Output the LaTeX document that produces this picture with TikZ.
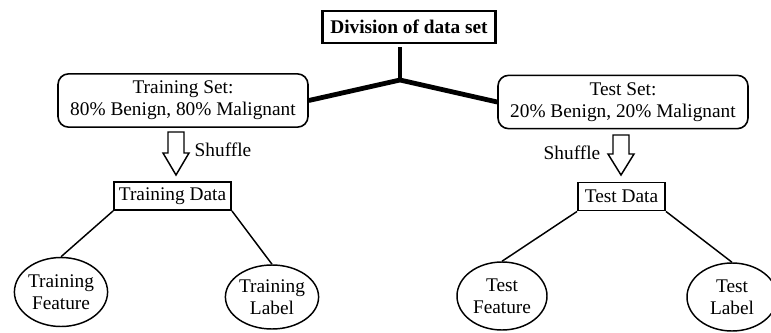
\documentclass[tikz,border=0pt]{standalone}
\usepackage{fontspec}
\setmainfont{Liberation Serif}
\usetikzlibrary{shapes.geometric}
\begin{document}
\begin{tikzpicture}[x=0.75pt, y=-0.75pt, >=stealth,
    every node/.style={font=\fontsize{14.5}{16.5}\selectfont, align=center, inner sep=0pt},
    setbox/.style={draw, line width=1.2pt, rounded corners=8pt, minimum width=187.5pt, minimum height=40pt},
    databox/.style={draw, line width=1.4pt, minimum height=21pt},
    leaf/.style={draw, ellipse, line width=1.1pt},
    branch/.style={line width=1.1pt},
    hollow/.style={draw, line width=1.1pt, fill=white}]
    % Khung (0,0) - (771,332), đơn vị = pixel của ảnh gốc
    \useasboundingbox (0,0) rectangle (771,332);

    % Tiêu đề
    \node[draw, line width=1.6pt, minimum width=129.75pt, minimum height=24pt,
        font=\fontsize{14.5}{16.5}\selectfont\bfseries] (title) at (409,27) {Division of data set};

    % Hai tập dữ liệu
    \node[setbox] (trainset) at (183,100.5) {Training Set:\\80\% Benign, 80\% Malignant};
    \node[setbox] (testset) at (623,102) {Test Set:\\20\% Benign, 20\% Malignant};

    % Nhánh chữ Y
    \coordinate (forktop) at (400,47);
    \coordinate (fork) at (400,80);
    \draw[line width=3.6pt] (forktop) -- (fork);
    \draw[line width=3.6pt] (trainset.east) -- (fork) -- (testset.west);

    % Mũi tên rỗng (Shuffle)
    \draw[hollow, shift={(176,132)}] (-8,0) -- (8,0) -- (8,21) -- (13,21) -- (0,43)
        -- (-13,21) -- (-8,21) -- cycle;
    \draw[hollow, shift={(621,135)}] (-8,0) -- (8,0) -- (8,19) -- (13,19) -- (0,40)
        -- (-13,19) -- (-8,19) -- cycle;
    \node (shuftrain) at (223,150) {Shuffle};
    \node (shuftest) at (572,153) {Shuffle};

    % Dữ liệu sau khi trộn
    \node[databox, minimum width=87.75pt] (traindata) at (172.5,196) {Training Data};
    \node[databox, minimum width=65.25pt] (testdata) at (621.5,196.5) {Test Data};

    % Lá: đặc trưng và nhãn
    \node[leaf, minimum width=66pt, minimum height=51.75pt] (trainfeat) at (61,292) {Training\\Feature};
    \node[leaf, minimum width=67.5pt, minimum height=48pt] (trainlabel) at (272,297) {Training\\Label};
    \node[leaf, minimum width=67.5pt, minimum height=51pt] (testfeat) at (502,296) {Test\\Feature};
    \node[leaf, minimum width=67.5pt, minimum height=51pt] (testlabel) at (732,297) {Test\\Label};

    \draw[branch] (traindata.south west) -- (trainfeat.north);
    \draw[branch] (traindata.south east) -- (trainlabel.north);
    \draw[branch] (testdata.south west) -- (testfeat.north);
    \draw[branch] (testdata.south east) -- (testlabel.north);

\end{tikzpicture}
\end{document}
